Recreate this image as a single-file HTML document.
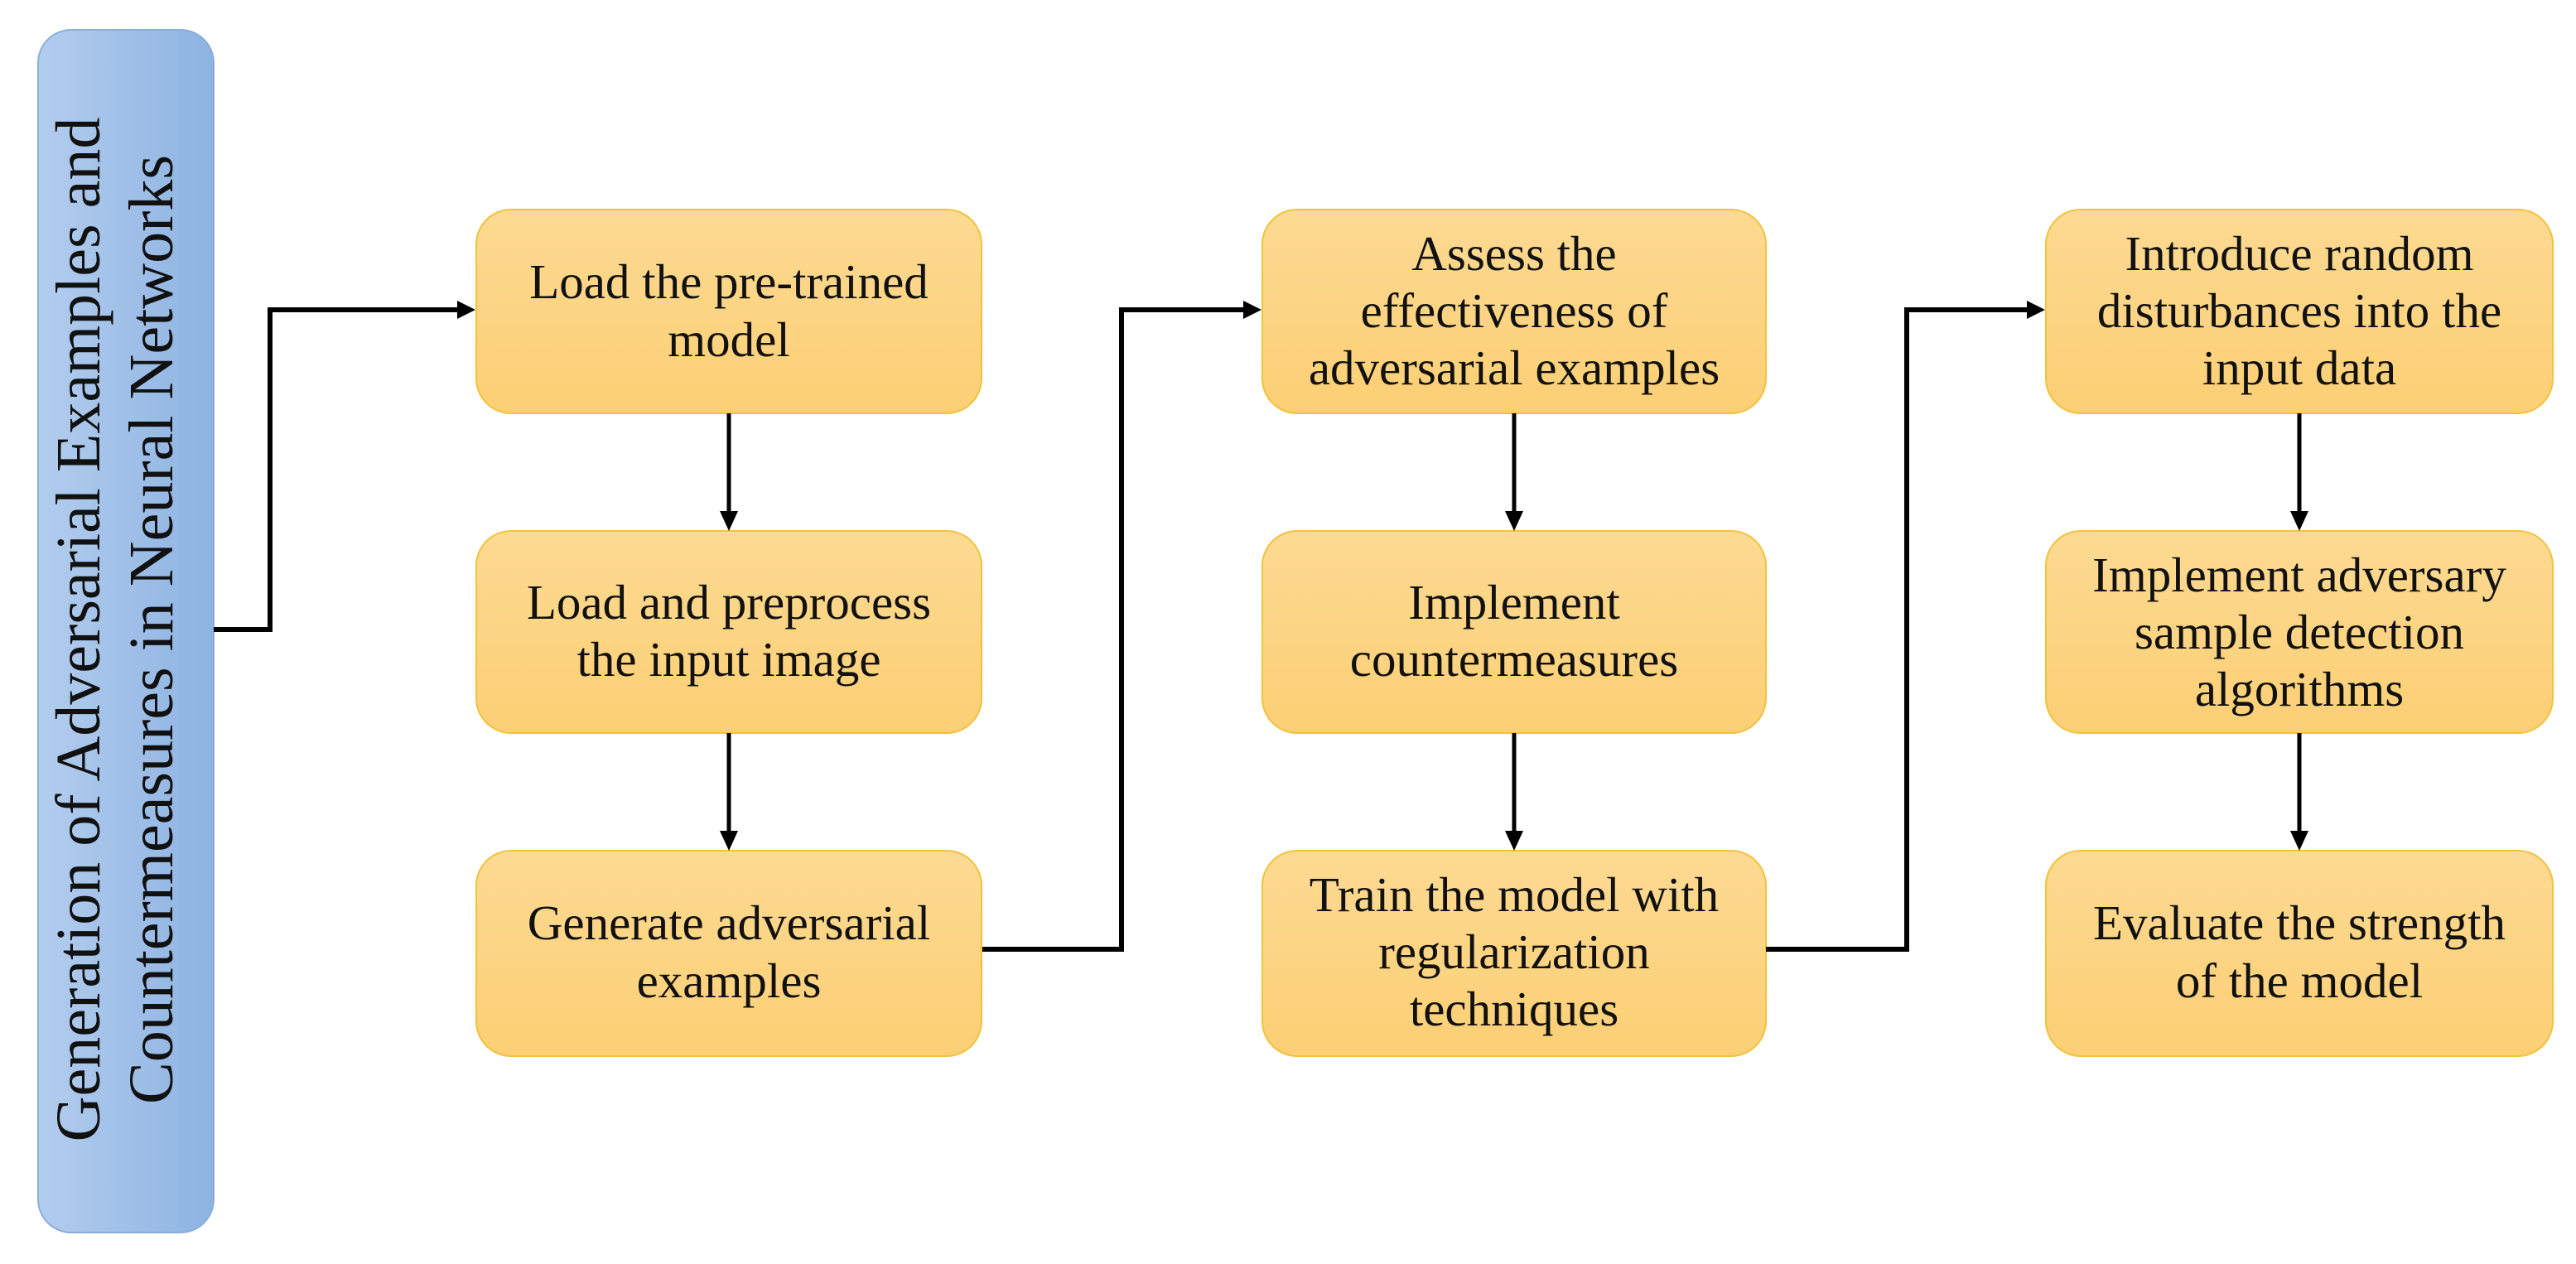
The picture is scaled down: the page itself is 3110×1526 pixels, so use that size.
<!DOCTYPE html>
<html><head><meta charset="utf-8"><style>
html,body{margin:0;padding:0;background:#fff;}
svg{display:block;}
text{font-family:"Liberation Serif",serif;fill:#111;}
</style></head><body>
<svg width="3110" height="1526" viewBox="0 0 3110 1526" xmlns="http://www.w3.org/2000/svg">
<defs>
<linearGradient id="og" x1="0" y1="0" x2="0" y2="1">
<stop offset="0" stop-color="#fdda93"/><stop offset="1" stop-color="#fbcf74"/>
</linearGradient>
<linearGradient id="bg" x1="0" y1="0" x2="1" y2="0">
<stop offset="0" stop-color="#b3cdee"/><stop offset="1" stop-color="#8db3e2"/>
</linearGradient>
</defs>
<rect x="46" y="36" width="212" height="1452" rx="40" fill="url(#bg)" stroke="#8aaedb" stroke-width="2"/>
<text transform="translate(120,760) rotate(-90)" text-anchor="middle" font-size="76">Generation of Adversarial  Examples  and</text>
<text transform="translate(208,760) rotate(-90)" text-anchor="middle" font-size="76">Countermeasures in Neural Networks</text>
<g fill="url(#og)" stroke="#f2c23e" stroke-width="2">
<rect x="575" y="253" width="610" height="246" rx="42"/>
<rect x="575" y="641" width="610" height="244" rx="42"/>
<rect x="575" y="1027" width="610" height="248" rx="42"/>
<rect x="1524" y="253" width="608" height="246" rx="42"/>
<rect x="1524" y="641" width="608" height="244" rx="42"/>
<rect x="1524" y="1027" width="608" height="248" rx="42"/>
<rect x="2470" y="253" width="612" height="246" rx="42"/>
<rect x="2470" y="641" width="612" height="244" rx="42"/>
<rect x="2470" y="1027" width="612" height="248" rx="42"/>
</g>
<g font-size="59" text-anchor="middle">
<text x="880" y="360">Load the pre-trained</text>
<text x="880" y="430">model</text>
<text x="880" y="747">Load and preprocess</text>
<text x="880" y="816">the input image</text>
<text x="880" y="1134">Generate adversarial</text>
<text x="880" y="1204">examples</text>
<text x="1828" y="326">Assess the</text>
<text x="1828" y="395">effectiveness of</text>
<text x="1828" y="464">adversarial  examples</text>
<text x="1828" y="747">Implement</text>
<text x="1828" y="816">countermeasures</text>
<text x="1828" y="1100">Train the model with</text>
<text x="1828" y="1169">regularization</text>
<text x="1828" y="1238">techniques</text>
<text x="2776" y="326">Introduce random</text>
<text x="2776" y="395">disturbances into the</text>
<text x="2776" y="464">input data</text>
<text x="2776" y="714">Implement adversary</text>
<text x="2776" y="783">sample detection</text>
<text x="2776" y="852">algorithms</text>
<text x="2776" y="1134">Evaluate the strength</text>
<text x="2776" y="1204">of the model</text>
</g>
<g fill="none" stroke="#000" stroke-width="6">
<polyline points="258,760 326,760 326,374 556,374"/>
<polyline points="1186,1146 1354,1146 1354,374 1505,374"/>
<polyline points="2132,1146 2302,1146 2302,374 2451,374"/>
</g>
<g fill="#000">
<polygon points="574,374 552,363 552,385"/>
<polygon points="1523,374 1501,363 1501,385"/>
<polygon points="2469,374 2447,363 2447,385"/>
</g>
<g stroke="#000" stroke-width="5">
<line x1="880" y1="499" x2="880" y2="620"/>
<line x1="880" y1="885" x2="880" y2="1006"/>
<line x1="1828" y1="499" x2="1828" y2="620"/>
<line x1="1828" y1="885" x2="1828" y2="1006"/>
<line x1="2776" y1="499" x2="2776" y2="620"/>
<line x1="2776" y1="885" x2="2776" y2="1006"/>
</g>
<g fill="#000">
<polygon points="880,641 869,617 891,617"/>
<polygon points="880,1027 869,1003 891,1003"/>
<polygon points="1828,641 1817,617 1839,617"/>
<polygon points="1828,1027 1817,1003 1839,1003"/>
<polygon points="2776,641 2765,617 2787,617"/>
<polygon points="2776,1027 2765,1003 2787,1003"/>
</g>
</svg>
</body></html>
